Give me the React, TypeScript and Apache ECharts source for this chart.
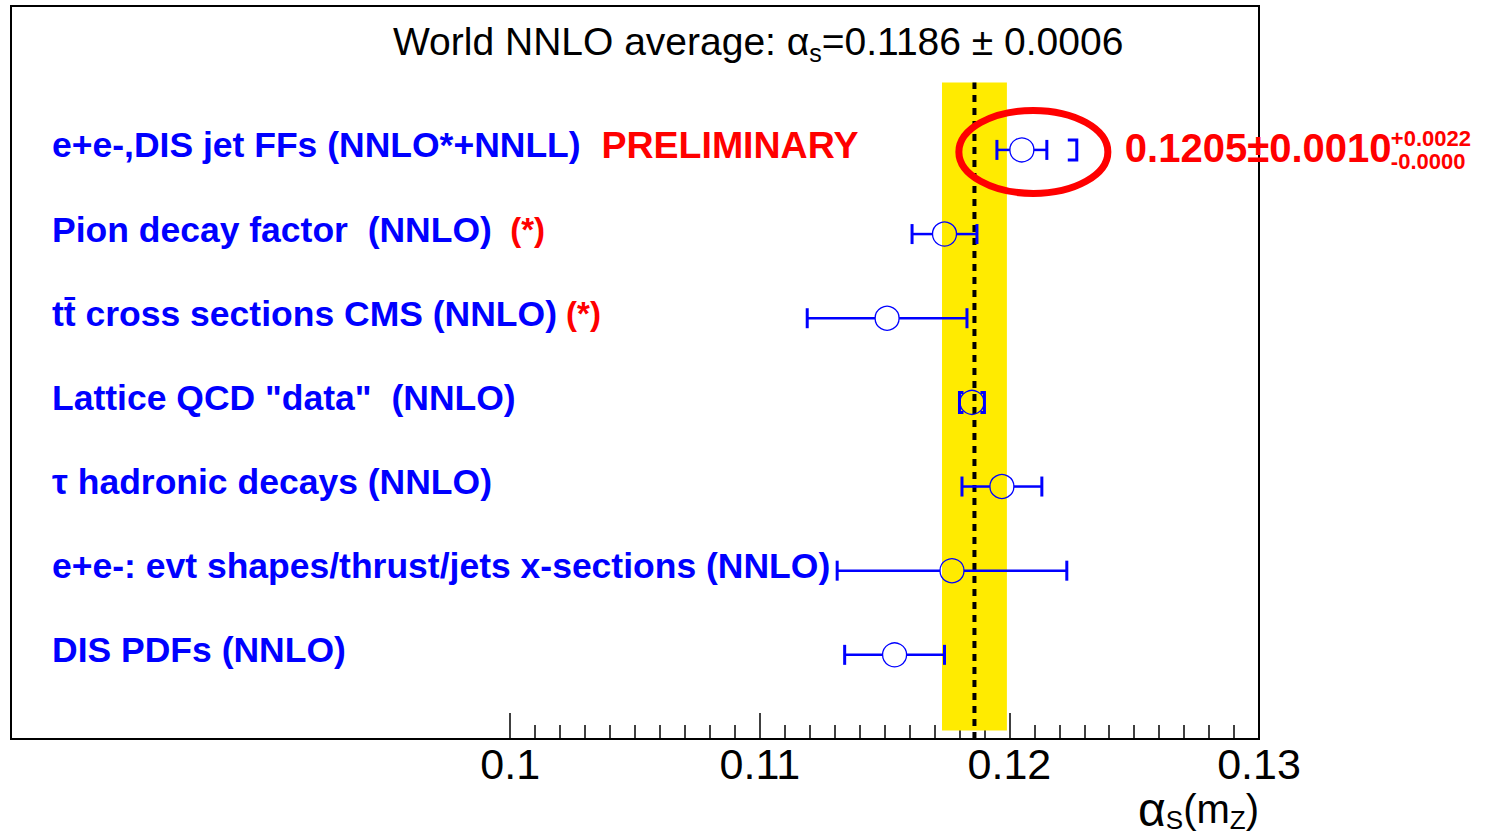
import React, { useEffect, useRef } from "react";
import * as echarts from "echarts";

// ---------------- data ----------------
const labels = [
  "e+e-,DIS jet FFs (NNLO*+NNLL)",
  "Pion decay factor  (NNLO)",
  "tt\u0304 cross sections CMS (NNLO)",
  'Lattice QCD "data"  (NNLO)',
  "\u03c4 hadronic decays (NNLO)",
  "e+e-: evt shapes/thrust/jets x-sections (NNLO)",
  "DIS PDFs (NNLO)",
];
const tags = ["PRELIMINARY", "(*)", "(*)", "", "", "", ""];
const rowPos = [7, 6, 5, 4, 3, 2, 1];
const centers = [0.1205, 0.1174, 0.1151, 0.1185, 0.1197, 0.1177, 0.1154];
const errLow = [0.1195, 0.1161, 0.1119, 0.1181, 0.1181, 0.1131, 0.1134];
const errHigh = [0.1215, 0.1187, 0.1183, 0.1189, 0.1213, 0.1223, 0.1174];
// systematic brackets: x value, row, side (+1 = "]", -1 = "[")
const bracketX = [0.1227, 0.118, 0.119];
const bracketRow = [7, 4, 4];
const bracketSide = [1, -1, 1];
const worldAvg = 0.1186;
const worldErr = 0.0006;
const bandLow = 0.1173;
const bandHigh = 0.1199;
const tickLabels = ["0.1", "0.11", "0.12", "0.13"];
const highlightValue = "0.1205";
const highlightStat = "0.0010";
const highlightSysUp = "+0.0022";
const highlightSysDown = "-0.0000";

// ---------------- layout ----------------
const W = 1487;
const H = 836;
const FONT = "'Liberation Sans', Arial, Helvetica, sans-serif";
const BLUE = "#0000ff";
const RED = "#ff0000";
const YELLOW = "#ffeb00";
const G = { left: 11, top: 6, width: 1248, height: 733 };
const X_MIN = 0.08;
const X_MAX = 0.13;
const Y_MAX = 8.71;
const BAND_BOTTOM = 0.1;
const BAND_TOP = 7.8;
const AX_MIN = 0.1;
const BRACKET_TICK = [9, 4, 4];
const TAG_GAP = ["  ", "  ", " ", "", "", "", ""];

export default function App() {
  const ref = useRef<HTMLDivElement>(null);

  useEffect(() => {
    document.body.style.margin = "0";
    if (!ref.current) return;
    const chart = echarts.init(ref.current, null, { renderer: "svg" });

    const grid1Left = G.left + ((AX_MIN - X_MIN) / (X_MAX - X_MIN)) * G.width;

    const option: any = {
      animation: false,
      backgroundColor: "#fff",
      textStyle: { fontFamily: FONT },
      title: {
        left: 393,
        top: 17,
        padding: 0,
        text: `{a|World NNLO average: \u03b1}{s|s}{a|=${worldAvg.toFixed(4)} \u00b1 ${worldErr.toFixed(4)}}`,
        textStyle: {
          fontWeight: "normal",
          rich: {
            a: { fontSize: 39, fontWeight: "normal", color: "#000", lineHeight: 48, fontFamily: FONT },
            s: { fontSize: 25, fontWeight: "normal", color: "#000", lineHeight: 25, verticalAlign: "bottom", fontFamily: FONT },
          },
        },
      },
      grid: [
        { left: G.left, top: G.top, width: G.width, height: G.height, show: true, borderColor: "#000", borderWidth: 2, backgroundColor: "transparent" },
        { left: grid1Left, top: G.top, width: G.left + G.width - grid1Left, height: G.height },
      ],
      xAxis: [
        { gridIndex: 0, type: "value", min: X_MIN, max: X_MAX, show: false },
        {
          gridIndex: 1,
          type: "value",
          min: AX_MIN,
          max: X_MAX,
          interval: 0.01,
          axisLine: { show: false },
          splitLine: { show: false },
          axisTick: { show: true, inside: true, length: 26, lineStyle: { color: "#000", width: 1.5 } },
          minorTick: { show: true, splitNumber: 10, length: 14, lineStyle: { color: "#000", width: 1.5 } },
          minorSplitLine: { show: false },
          axisLabel: {
            fontSize: 43,
            color: "#000",
            margin: 3,
            fontFamily: FONT,
            formatter: (v: number) => {
              const i = Math.round((v - AX_MIN) / 0.01);
              return tickLabels[i] ?? "";
            },
          },
        },
      ],
      yAxis: [
        {
          gridIndex: 0,
          type: "value",
          min: 0,
          max: Y_MAX,
          interval: 1,
          axisLine: { show: false },
          axisTick: { show: false },
          splitLine: { show: false },
          axisLabel: {
            inside: true,
            margin: 41,
            padding: [0, 0, 9, 0],
            formatter: (v: number) => {
              const r = rowPos.indexOf(Math.round(v));
              if (Math.abs(v - Math.round(v)) > 1e-6 || r < 0) return "";
              const style = r === 0 ? "r" : "q";
              return `{b|${labels[r]}}` + (tags[r] ? `{${style}|${TAG_GAP[r]}${tags[r]}}` : "");
            },
            rich: {
              b: { color: BLUE, fontWeight: "bold", fontSize: 35.5, fontFamily: FONT },
              r: { color: RED, fontWeight: "bold", fontSize: 37.5, fontFamily: FONT },
              q: { color: RED, fontWeight: "bold", fontSize: 33, fontFamily: FONT },
            },
          },
        },
        { gridIndex: 1, type: "value", min: 0, max: 1, show: false },
      ],
      series: [
        {
          type: "custom",
          xAxisIndex: 0,
          yAxisIndex: 0,
          silent: true,
          data: [[bandLow, bandHigh]],
          encode: { x: [0, 1] },
          renderItem: (_p: any, api: any) => {
            const a = api.coord([api.value(0), BAND_TOP]);
            const b = api.coord([api.value(1), BAND_BOTTOM]);
            return {
              type: "rect",
              shape: { x: a[0], y: a[1], width: b[0] - a[0], height: b[1] - a[1] },
              style: { fill: YELLOW },
            };
          },
        },
        {
          type: "custom",
          xAxisIndex: 0,
          yAxisIndex: 0,
          silent: true,
          data: [[worldAvg, 0]],
          encode: { x: 0, y: 1 },
          renderItem: (_p: any, api: any) => {
            const a = api.coord([api.value(0), 0]);
            const b = api.coord([api.value(0), BAND_TOP]);
            return {
              type: "line",
              shape: { x1: a[0], y1: a[1], x2: b[0], y2: b[1] },
              style: { stroke: "#000", lineWidth: 4, lineDash: [7, 6] },
            };
          },
        },
        {
          type: "custom",
          xAxisIndex: 0,
          yAxisIndex: 0,
          silent: true,
          data: centers.map((c, i) => [c, errLow[i], errHigh[i], rowPos[i]]),
          encode: { x: [0, 1, 2], y: 3 },
          renderItem: (_p: any, api: any) => {
            const y = api.value(3);
            const c = api.coord([api.value(0), y]);
            const lo = api.coord([api.value(1), y]);
            const hi = api.coord([api.value(2), y]);
            const R = 12;
            const cap = 10;
            const children: any[] = [];
            const ls = { stroke: BLUE, lineWidth: 2.5 };
            const cs = { stroke: BLUE, lineWidth: 3 };
            if (lo[0] < c[0] - R) {
              children.push({ type: "line", shape: { x1: lo[0], y1: c[1], x2: c[0] - R, y2: c[1] }, style: ls });
              children.push({ type: "line", shape: { x1: lo[0], y1: c[1] - cap, x2: lo[0], y2: c[1] + cap }, style: cs });
            }
            if (hi[0] > c[0] + R) {
              children.push({ type: "line", shape: { x1: c[0] + R, y1: c[1], x2: hi[0], y2: c[1] }, style: ls });
              children.push({ type: "line", shape: { x1: hi[0], y1: c[1] - cap, x2: hi[0], y2: c[1] + cap }, style: cs });
            }
            children.push({
              type: "circle",
              shape: { cx: c[0], cy: c[1], r: R },
              style: { fill: "none", stroke: BLUE, lineWidth: 1.3 },
            });
            return { type: "group", children };
          },
        },
        {
          type: "custom",
          xAxisIndex: 0,
          yAxisIndex: 0,
          silent: true,
          data: bracketX.map((x, i) => [x, bracketRow[i], bracketSide[i], i]),
          encode: { x: 0, y: 1 },
          renderItem: (_p: any, api: any) => {
            const p = api.coord([api.value(0), api.value(1)]);
            const side = api.value(2);
            const h = 10;
            const t = BRACKET_TICK[api.value(3)] * -side;
            return {
              type: "polyline",
              shape: {
                points: [
                  [p[0] + t, p[1] - h],
                  [p[0], p[1] - h],
                  [p[0], p[1] + h],
                  [p[0] + t, p[1] + h],
                ],
              },
              style: { stroke: BLUE, lineWidth: 3, fill: "none" },
            };
          },
        },
      ],
    };

    chart.setOption(option);

    // annotations placed from the chart's own scales
    const e = chart.convertToPixel({ gridIndex: 0 }, [0.121, rowPos[0]]) as number[];
    const axEnd = chart.convertToPixel({ gridIndex: 0 }, [X_MAX, 0]) as number[];
    const ecx = e[0] - 1;
    const ecy = e[1] + 2;
    const rx = 74.5;
    const ry = 41.5;
    const tx = ecx + rx + 17;
    chart.setOption({
      graphic: [
        {
          type: "ellipse",
          silent: true,
          shape: { cx: ecx, cy: ecy, rx, ry },
          style: { fill: "none", stroke: RED, lineWidth: 7 },
          z: 10,
        },
        {
          type: "text",
          silent: true,
          x: tx,
          y: ecy - 4,
          style: {
            text: `${highlightValue}\u00b1${highlightStat}`,
            fill: RED,
            font: `bold 40px ${FONT}`,
            align: "left",
            verticalAlign: "middle",
          },
          z: 10,
        },
        {
          type: "text",
          silent: true,
          x: tx + 266,
          y: ecy - 13,
          style: { text: highlightSysUp, fill: RED, font: `bold 22px ${FONT}`, align: "left", verticalAlign: "middle" },
          z: 10,
        },
        {
          type: "text",
          silent: true,
          x: tx + 266,
          y: ecy + 10,
          style: { text: highlightSysDown, fill: RED, font: `bold 22px ${FONT}`, align: "left", verticalAlign: "middle" },
          z: 10,
        },
        {
          type: "text",
          silent: true,
          x: axEnd[0],
          y: axEnd[1] + 70,
          style: {
            text: "{g|\u03b1}{s|S}{a|(m}{s|Z}{a|)}",
            align: "right",
            verticalAlign: "middle",
            rich: {
              g: { fontSize: 48, fill: "#000", lineHeight: 48, fontFamily: FONT },
              a: { fontSize: 40, fill: "#000", lineHeight: 48, fontFamily: FONT },
              s: { fontSize: 26, fill: "#000", lineHeight: 26, verticalAlign: "bottom", fontFamily: FONT },
            },
          },
          z: 10,
        },
      ],
    });

    return () => chart.dispose();
  }, []);

  return <div ref={ref} style={{ width: W, height: H }} />;
}
